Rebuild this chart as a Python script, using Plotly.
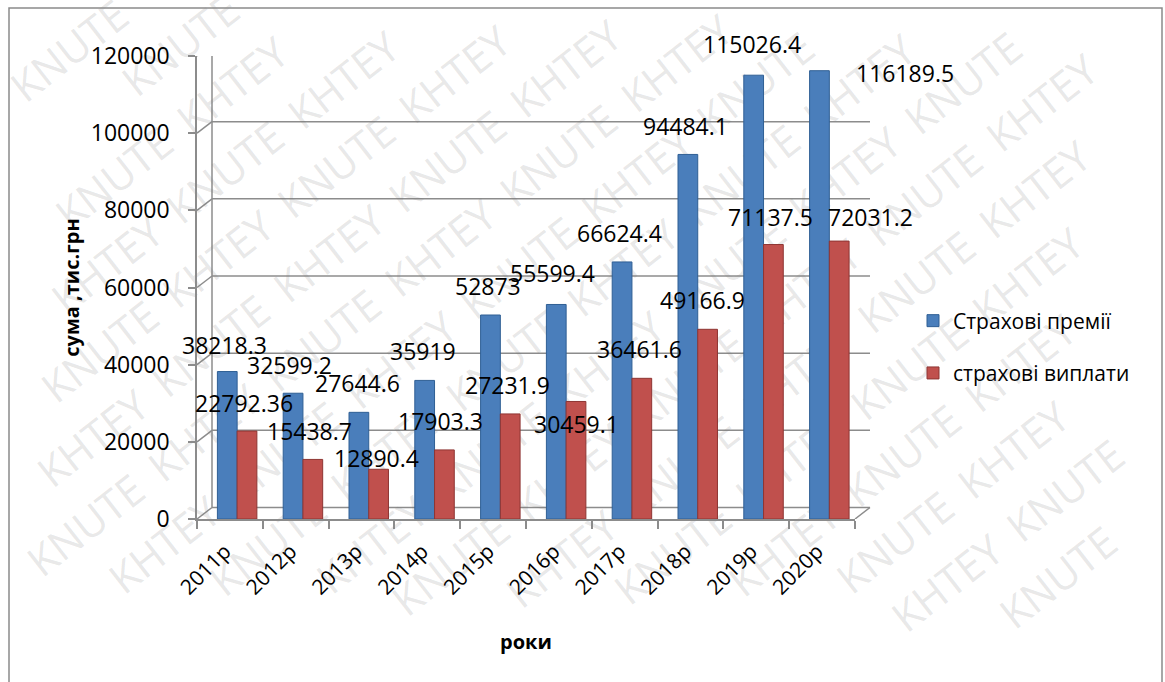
import math
import plotly.graph_objects as go

# ---------------- data ----------------
years = ['2011р', '2012р', '2013р', '2014р', '2015р', '2016р', '2017р', '2018р', '2019р', '2020р']
premiums = [38218.3, 32599.2, 27644.6, 35919, 52873, 55599.4, 66624.4, 94484.1, 115026.4, 116189.5]
payouts = [22792.36, 15438.7, 12890.4, 17903.3, 27231.9, 30459.1, 36461.6, 49166.9, 71137.5, 72031.2]
series_names = ['Страхові премії', 'страхові виплати']
y_ticks = [0, 20000, 40000, 60000, 80000, 100000, 120000]

# ---------------- style ----------------
FONT = 'Open Sans'
BLUE = '#4A7EBB'
RED = '#C0504D'
GRID = '#8C8C8C'
W, H = 1165, 682
L, R, T, B = 197, 310, 56, 163
PW, PH = W - L - R, H - T - B
DX, DY = 15, 11.5  # depth offset of the back wall (px)

# label offsets (px) relative to category centre / bar top
blue_off = [(-5, 27), (-6, 28), (-4, 29), (-4, 29), (-5, 29), (-6, 31), (-5, 29), (-5, 28), (-4, 31), (83, -2)]
red_off = [(14, 28), (14, 28), (15, 11), (13, 29), (14, 29), (18, -23), (15, 29), (12, 29), (14, 28), (48, 24)]

fig = go.Figure()
fig.add_bar(x=years, y=premiums, name=series_names[0], offset=-0.19, width=0.3,
            marker=dict(color=BLUE, line=dict(color='#2F5F94', width=1)))
fig.add_bar(x=years, y=payouts, name=series_names[1], offset=0.11, width=0.3,
            marker=dict(color=RED, line=dict(color='#8E3533', width=1)))

shapes = []
# back-wall gridlines and depth connectors
for v in y_ticks:
    shapes.append(dict(type='line', xref='paper', yref='y', xsizemode='pixel', ysizemode='pixel',
                       xanchor=0, yanchor=v, x0=0, x1=DX, y0=0, y1=DY,
                       line=dict(color=GRID, width=1.5), layer='below'))
    shapes.append(dict(type='line', xref='paper', yref='y', xsizemode='pixel', ysizemode='pixel',
                       xanchor=0, yanchor=v, x0=DX, x1=PW + DX, y0=DY, y1=DY,
                       line=dict(color=GRID, width=1.5), layer='below'))
# back wall left edge
shapes.append(dict(type='line', xref='paper', yref='y', xsizemode='pixel', ysizemode='pixel',
                   xanchor=0, yanchor=0, x0=DX, x1=DX, y0=DY, y1=PH + DY,
                   line=dict(color=GRID, width=1.5), layer='below'))
# floor right edge
shapes.append(dict(type='line', xref='paper', yref='y', xsizemode='pixel', ysizemode='pixel',
                   xanchor=0, yanchor=0, x0=PW, x1=PW + DX, y0=0, y1=DY,
                   line=dict(color=GRID, width=1.5), layer='below'))

# watermark (KHTEY / KNUTE) rows, each row filled with whole words kept inside the frame
def px2paper(px, py):
    return (px - L) / PW, (H - B - py) / PH

ang = math.radians(38)
d = (math.cos(ang), -math.sin(ang))
n = (math.sin(ang), math.cos(ang))
cx, cy = W / 2, H / 2
WM_SIZE = 42
word_w, word_h = 136, 40
PAD = 12
ex = word_w / 2 * d[0] + word_h / 2 * n[0] + PAD
ey = word_w / 2 * abs(d[1]) + word_h / 2 * n[1] + PAD
period = 150
row_gap = 64
for k in range(-14, 15):
    mx, my = cx + k * row_gap * n[0], cy + k * row_gap * n[1]
    t_lo = max((ex - mx) / d[0], (H - ey - my) / d[1])
    t_hi = min((W - ex - mx) / d[0], (ey - my) / d[1])
    if t_hi < t_lo:
        continue
    count = int((t_hi - t_lo) // period) + 1
    t0 = (t_lo + t_hi) / 2 - (count - 1) * period / 2
    for j in range(count):
        t = t0 + j * period
        px, py = mx + t * d[0], my + t * d[1]
        # keep the un-rotated text box inside the frame as well
        if px - word_w / 2 < 16 or py < 62:
            continue
        word = 'KHTEY' if (j + k) % 2 else 'KNUTE'
        x0, y0 = px2paper(px - 20 * d[0], py - 20 * d[1])
        x1, y1 = px2paper(px + 20 * d[0], py + 20 * d[1])
        shapes.append(dict(type='line', xref='paper', yref='paper', x0=x0, y0=y0, x1=x1, y1=y1,
                           line=dict(width=0, color='rgba(0,0,0,0)'), layer='below',
                           label=dict(text=word, textposition='middle', textangle=-38,
                                      font=dict(family=FONT, size=WM_SIZE,
                                                color='rgba(120,120,120,0.18)'))))

# outer frame
fx0, fy0 = px2paper(9, 690)
fx1, fy1 = px2paper(1162, 8)
shapes.append(dict(type='rect', xref='paper', yref='paper', x0=fx0, y0=fy0, x1=fx1, y1=fy1,
                   line=dict(color='#8A8A8A', width=1.5), layer='below'))

annotations = []
for i, yr in enumerate(years):
    for vals, off in ((premiums, blue_off), (payouts, red_off)):
        v = vals[i]
        annotations.append(dict(x=yr, y=v, xref='x', yref='y', text=str(v), showarrow=False,
                                xanchor='center', yanchor='middle',
                                xshift=off[i][0], yshift=off[i][1],
                                font=dict(family=FONT, size=23, color='black')))

fig.update_layout(
    width=W, height=H,
    margin=dict(l=L, r=R, t=T, b=B, autoexpand=False),
    paper_bgcolor='white', plot_bgcolor='rgba(0,0,0,0)',
    font=dict(family=FONT, color='black'),
    barmode='group',
    showlegend=True,
    legend=dict(x=(913 - L) / PW, y=(H - B - 347) / PH, xanchor='left', yanchor='middle',
                font=dict(family=FONT, size=21, color='black'), tracegroupgap=22,
                bgcolor='rgba(0,0,0,0)', itemwidth=30),
    shapes=shapes,
    annotations=annotations,
    xaxis=dict(type='category', range=[-0.5, len(years) - 0.5], tickangle=-45,
               tickfont=dict(family=FONT, size=21),
               showline=True, linecolor=GRID, linewidth=1.5,
               ticks='outside', tickson='boundaries', ticklen=8, tickcolor=GRID, tickwidth=1.5,
               ticklabelstandoff=10, ticklabelshift=-5,
               showgrid=False, fixedrange=True,
               title=dict(text='<b>роки</b>', font=dict(family=FONT, size=20), standoff=36)),
    yaxis=dict(range=[0, 120000], tickvals=y_ticks, tickformat='d', tickfont=dict(family=FONT, size=23),
               showline=True, linecolor=GRID, linewidth=1.5, showgrid=False, zeroline=False,
               ticks='outside', ticklen=7, tickcolor=GRID, tickwidth=1.5, ticklabelstandoff=14,
               title=dict(text='<b>сума ,тис.грн</b>', font=dict(family=FONT, size=20), standoff=6)),
)
for tr in fig.data:
    tr.legendgroup = tr.name
    tr.cliponaxis = False

fig.write_html('out.html')
